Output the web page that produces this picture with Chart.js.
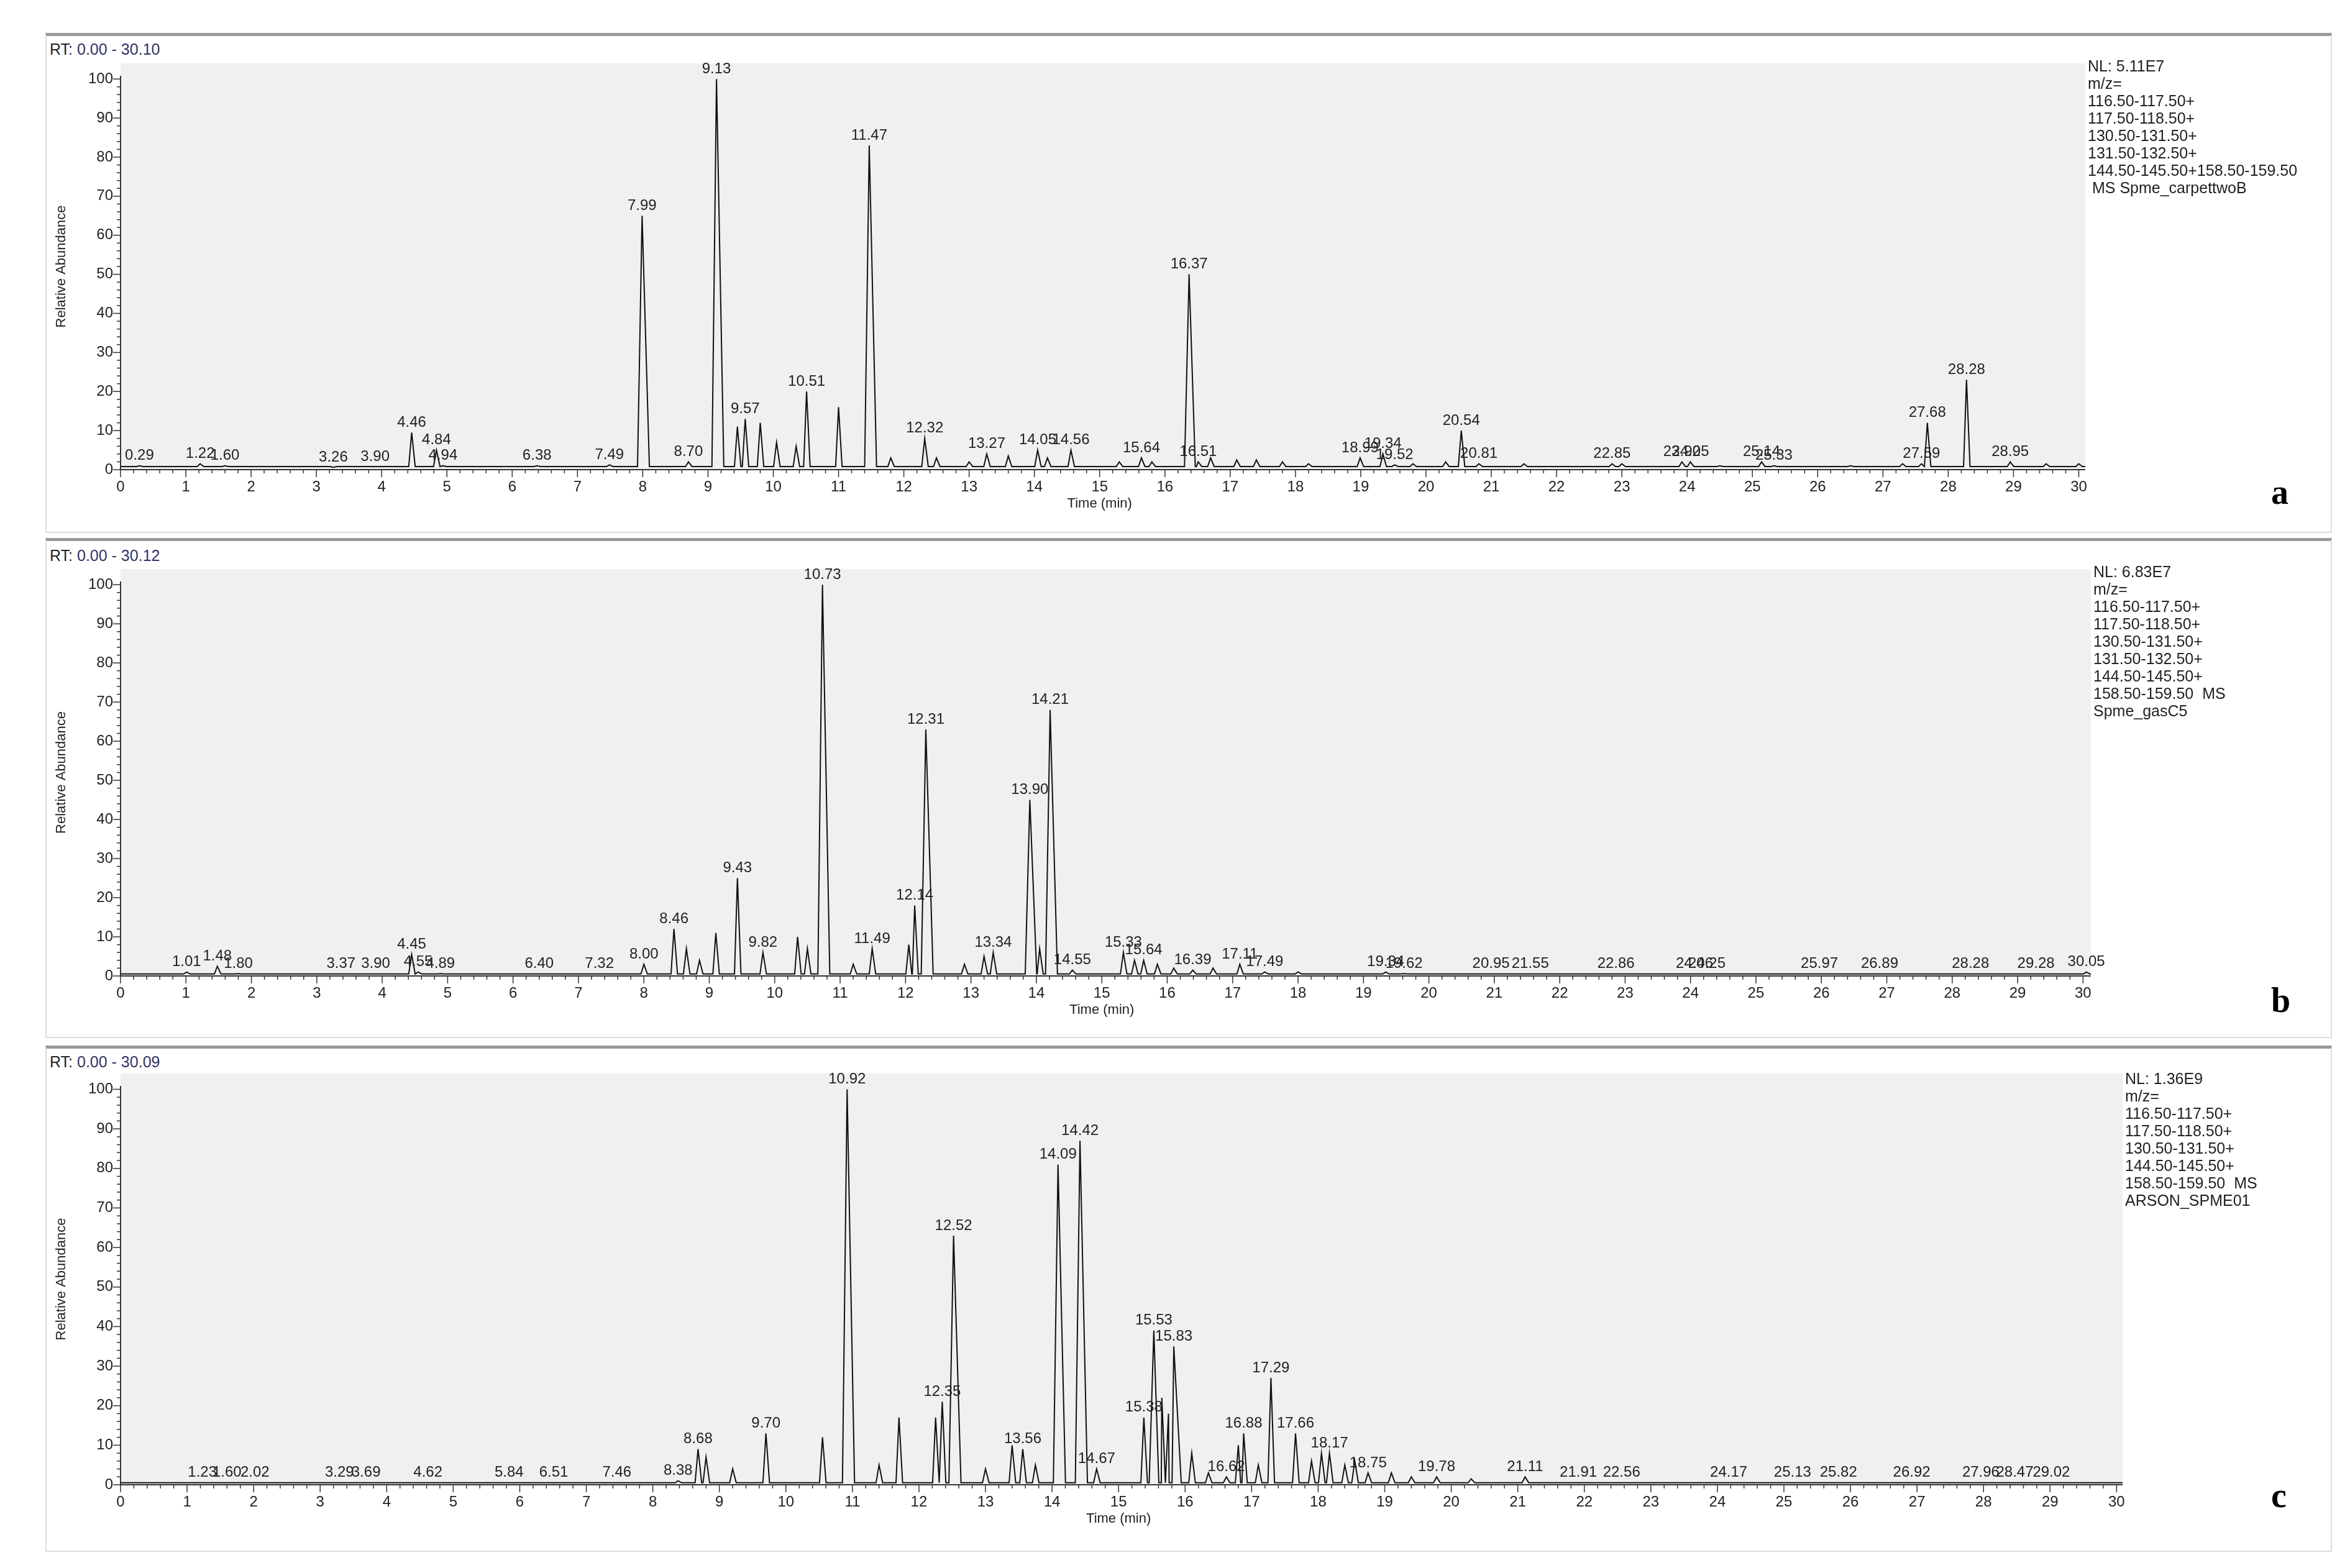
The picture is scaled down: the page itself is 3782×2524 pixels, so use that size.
<!DOCTYPE html>
<html><head><meta charset="utf-8">
<script src="https://cdn.jsdelivr.net/npm/chart.js@4"></script>
<style>
body{margin:0;background:#fff;width:3782px;height:2524px;position:relative;overflow:hidden;font-family:"Liberation Sans",Arial,sans-serif}
.frame{position:absolute;left:73px;width:3680px;border:2px solid #ddd;border-top:5px solid #999;box-sizing:border-box}
canvas{position:absolute;left:0}
.lg{position:absolute;font-size:25px;line-height:28px;color:#222;white-space:pre;z-index:5}
.rt{position:absolute;left:80px;font-size:25px;color:#222}
.rt span{color:#336}
.let{position:absolute;left:3655px;font:bold 56px "Liberation Serif",serif}
</style></head><body>
<div class="frame" style="top:53px;height:805px"></div>
<div class="frame" style="top:866px;height:805px"></div>
<div class="frame" style="top:1683px;height:815px"></div>
<div class="rt" style="top:65px">RT: <span>0.00 - 30.10</span></div>
<div class="rt" style="top:880px">RT: <span>0.00 - 30.12</span></div>
<div class="rt" style="top:1695px">RT: <span>0.00 - 30.09</span></div>
<div class="let" style="top:760px">a</div>
<div class="let" style="top:1578px">b</div>
<div class="let" style="top:2375px">c</div>
<canvas id="ca" width="3782" height="860" style="top:0"></canvas>
<canvas id="cb" width="3782" height="860" style="top:820px"></canvas>
<canvas id="cc" width="3782" height="880" style="top:1640px"></canvas>
<div class="lg" style="left:3360px;top:92px">NL: 5.11E7
m/z=
116.50-117.50+
117.50-118.50+
130.50-131.50+
131.50-132.50+
144.50-145.50+158.50-159.50
 MS Spme_carpettwoB</div>
<div class="lg" style="left:3369px;top:906px">NL: 6.83E7
m/z=
116.50-117.50+
117.50-118.50+
130.50-131.50+
131.50-132.50+
144.50-145.50+
158.50-159.50  MS
Spme_gasC5</div>
<div class="lg" style="left:3420px;top:1722px">NL: 1.36E9
m/z=
116.50-117.50+
117.50-118.50+
130.50-131.50+
144.50-145.50+
158.50-159.50  MS
ARSON_SPME01</div>
<script>
// labeled peaks [rt, relative abundance]
const peaksA=[[0.29,1],[1.22,1.5],[1.60,1],[3.26,0.6],[3.90,0.8],[4.46,9.5],[4.84,5],[4.94,1],[6.38,1],[7.49,1.2],[7.99,65],[8.70,2],[9.13,100],[9.57,13],[10.51,20],[11.47,83],[12.32,8],[13.27,4],[14.05,5],[14.56,5],[15.64,3],[16.37,50],[16.51,2],[18.99,3],[19.34,4],[19.52,1.2],[20.54,10],[20.81,1.5],[22.85,1.5],[23.92,2],[24.05,2],[25.14,2],[25.33,1],[27.59,1.5],[27.68,12],[28.28,23],[28.95,2]];
const minorA=[[9.45,11],[9.8,12],[10.05,7],[10.35,6],[11.0,16],[11.8,3],[12.5,3],[13.0,2],[13.6,3.5],[14.2,3],[15.3,2],[15.8,2],[16.7,3],[17.1,2.5],[17.4,2.5],[17.8,2],[18.2,1.5],[19.8,1.5],[20.3,2],[21.5,1.5],[23.0,1.5],[24.5,1],[26.5,1],[27.3,1.5],[29.5,1.5],[30.0,1.5]];
const peaksB=[[1.01,1],[1.48,2.5],[1.80,0.6],[3.37,0.5],[3.90,0.5],[4.45,5.5],[4.55,1],[4.89,0.6],[6.40,0.5],[7.32,0.5],[8.00,3],[8.46,12],[9.43,25],[9.82,6],[10.73,100],[11.49,7],[12.14,18],[12.31,63],[13.34,6],[13.90,45],[14.21,68],[14.55,1.5],[15.33,6],[15.64,4],[16.39,1.5],[17.11,3],[17.49,1],[19.34,1],[19.62,0.6],[20.95,0.5],[21.55,0.5],[22.86,0.5],[24.06,0.5],[24.25,0.5],[25.97,0.5],[26.89,0.5],[28.28,0.5],[29.28,0.5],[30.05,1]];
const minorB=[[8.65,7],[8.85,4],[9.1,11],[10.35,10],[10.5,7],[11.2,3],[12.05,8],[12.9,3],[13.2,5],[14.05,7],[15.5,4],[15.85,3],[16.1,2],[16.7,2],[18.0,1]];
const peaksC=[[1.23,0.5],[1.60,0.5],[2.02,0.5],[3.29,0.5],[3.69,0.5],[4.62,0.5],[5.84,0.5],[6.51,0.5],[7.46,0.5],[8.38,1],[8.68,9],[9.70,13],[10.92,100],[12.35,21],[12.52,63],[13.56,9],[14.09,81],[14.42,87],[14.67,4],[15.38,17],[15.53,39],[15.83,35],[16.62,2],[16.88,13],[17.29,27],[17.66,13],[18.17,8],[18.75,3],[19.78,2],[21.11,2],[21.91,0.5],[22.56,0.5],[24.17,0.5],[25.13,0.5],[25.82,0.5],[26.92,0.5],[27.96,0.5],[28.47,0.5],[29.02,0.5]];
const minorC=[[8.8,7],[9.2,4],[10.55,12],[11.4,5],[11.7,17],[12.25,17],[13.0,4],[13.4,10],[13.75,5],[15.65,22],[15.75,18],[16.1,8],[16.35,3],[16.8,10],[17.1,5],[17.9,6],[18.05,8],[18.4,5],[18.55,6],[19.1,3],[19.4,2],[20.3,1.5]];
const xTicks=[0,1,2,3,4,5,6,7,8,9,10,11,12,13,14,15,16,17,18,19,20,21,22,23,24,25,26,27,28,29,30];
const yTicks=[0,10,20,30,40,50,60,70,80,90,100];

function trace(peaks,minor,base,xmax){
  const all=peaks.concat(minor).sort((a,b)=>a[0]-b[0]);
  const pts=[{x:0,y:base}];
  all.forEach(([x,y])=>{const w=y>30?0.07:0.045;
    pts.push({x:x-w,y:base},{x:x,y:y},{x:x+w*(y>30?1.6:1.2),y:base});});
  pts.push({x:xmax,y:base});
  pts.sort((a,b)=>a.x-b.x);
  return pts;
}
const axesPlugin={id:'ax',
 beforeDraw(c){const a=c.chartArea,g=c.ctx;g.save();g.fillStyle='#f0f0f0';g.fillRect(a.left,a.top,a.right-a.left,a.bottom-a.top);g.restore();},
 afterDraw(c){const a=c.chartArea,g=c.ctx,xs=c.scales.x,ys=c.scales.y;g.save();
  g.strokeStyle='#333';g.lineWidth=2;g.beginPath();g.moveTo(a.left,a.top+20);g.lineTo(a.left,a.bottom);g.lineTo(a.right,a.bottom);g.stroke();
  g.fillStyle='#222';g.font='24px "Liberation Sans",Arial';
  g.lineWidth=1.5;
  for(let v=0;v<=100;v+=2){const y=ys.getPixelForValue(v);const L=v%10?6:12;g.beginPath();g.moveTo(a.left-L,y);g.lineTo(a.left,y);g.stroke();}
  g.textAlign='right';g.textBaseline='middle';yTicks.forEach(v=>g.fillText(String(v),a.left-12,ys.getPixelForValue(v)));
  for(let v=0;v<=30;v+=0.2){const x=xs.getPixelForValue(v);const L=Math.abs(v-Math.round(v))<0.01?12:6;g.beginPath();g.moveTo(x,a.bottom);g.lineTo(x,a.bottom+L);g.stroke();}
  g.textAlign='center';g.textBaseline='top';xTicks.forEach(v=>g.fillText(String(v),xs.getPixelForValue(v),a.bottom+16));
  g.font='22px "Liberation Sans",Arial';g.fillText('Time (min)',xs.getPixelForValue(15),a.bottom+44);
  g.save();g.translate(a.left-95,(a.top+a.bottom)/2);g.rotate(-Math.PI/2);g.textBaseline='middle';g.fillText('Relative Abundance',0,0);g.restore();
  g.font='24px "Liberation Sans",Arial';g.textBaseline='bottom';
  c.options.plugins.ax.labels.forEach(([x,y])=>g.fillText(x.toFixed(2),xs.getPixelForValue(x),ys.getPixelForValue(y)-4));
  g.restore();}
};
function make(id,peaks,minor,base,xmax,pad){
  new Chart(document.getElementById(id),{type:'line',
   data:{datasets:[{data:trace(peaks,minor,base,xmax),borderColor:'#111',borderWidth:2,pointRadius:0,tension:0}]},
   options:{responsive:false,animation:false,devicePixelRatio:1,layout:{padding:pad},
    scales:{x:{type:'linear',min:0,max:xmax,display:false},y:{min:0,max:104,display:false}},
    plugins:{legend:{display:false},tooltip:{enabled:false},ax:{labels:peaks}}},
   plugins:[axesPlugin]});
}
make('ca',peaksA,minorA,0.8,30.10,{left:194,right:3782-3356,top:102,bottom:860-756});
make('cb',peaksB,minorB,0.5,30.12,{left:194,right:3782-3365,top:916-820,bottom:860-(1571-820)});
make('cc',peaksC,minorC,0.5,30.09,{left:194,right:3782-3416,top:1728-1640,bottom:880-(2390-1640)});
</script></body></html>
